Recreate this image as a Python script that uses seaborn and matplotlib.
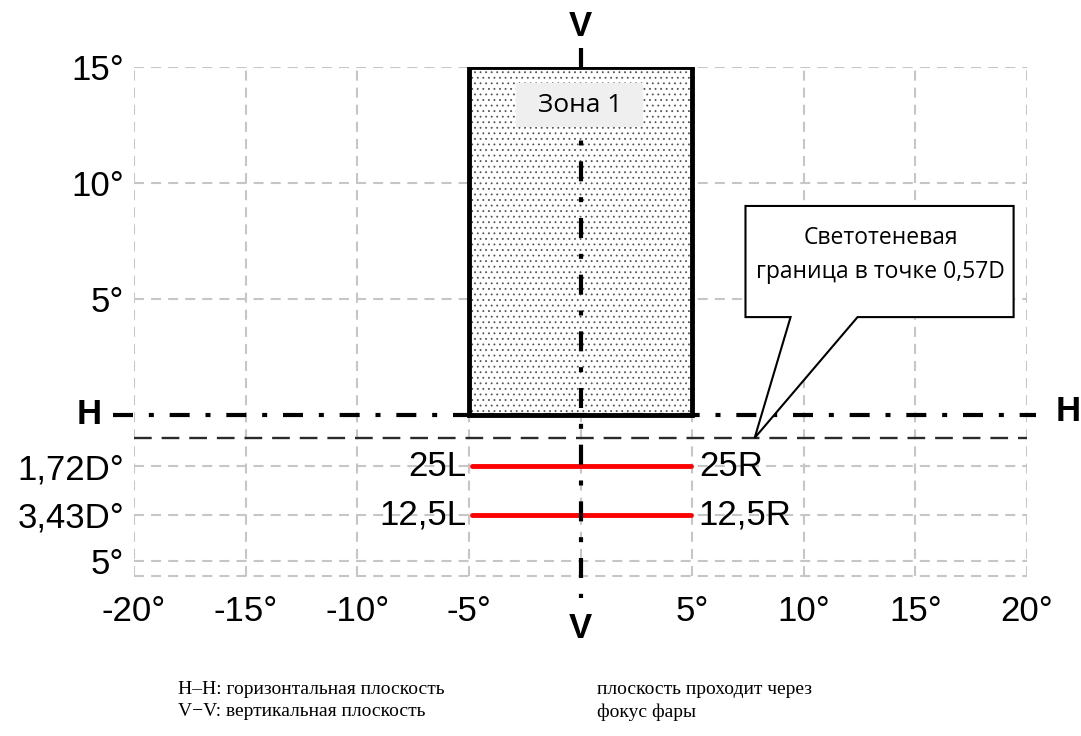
import matplotlib.pyplot as plt
import seaborn as sns
import pandas as pd
from matplotlib.patches import Rectangle, Polygon

# шкалы (углы)
x_ticks = [-20, -15, -10, -5, 0, 5, 10, 15, 20]
x_labels = ["-20°", "-15°", "-10°", "-5°", "", "5°", "10°", "15°", "20°"]
y_ticks = [15, 10, 5, -2.2, -4.31, -6.29]
y_labels = ["15°", "10°", "5°", "1,72D°", "3,43D°", "5°"]
y_bottom = -6.94

# зона 1 и светотеневая граница
zone_x = [-5, 5]
zone_y = [0, 15]
cutoff_y = -0.99

# контрольные линии
test_y = [-2.2, -4.31]
test_x = [-4.85, 4.95]
left_names = ["25L", "12,5L"]
right_names = ["25R", "12,5R"]

sns.set_theme(style="white")
plt.rcParams["font.family"] = ["Liberation Sans", "DejaVu Sans"]
plt.rcParams["hatch.linewidth"] = 0.6
plt.rcParams["text.color"] = "black"

fig = plt.figure(figsize=(10.81, 7.36), dpi=100)
ax = fig.add_axes([134 / 1081, 1 - 576 / 736, 893 / 1081, 509 / 736])
ax.set_xlim(-20, 20)
ax.set_ylim(y_bottom, 15)

for s in ax.spines.values():
    s.set_visible(False)

ax.set_xticks(x_ticks)
ax.set_xticklabels(x_labels)
ax.set_yticks(y_ticks)
ax.set_yticklabels(y_labels)
ax.tick_params(axis="both", length=0, labelsize=25, colors="black", labelcolor="black")
ax.tick_params(axis="x", pad=14)
ax.tick_params(axis="y", pad=7)
grid_ls = (0, (4.8, 3.4))
ax.grid(True, color="#c6c6c6", linestyle=grid_ls, linewidth=1.5, zorder=0)
ax.set_axisbelow(True)
ax.axhline(y_bottom, color="#c6c6c6", linestyle=grid_ls, linewidth=1.5, clip_on=False, zorder=0)

# зона 1
zw = zone_x[1] - zone_x[0]
zh = zone_y[1] - zone_y[0]
ax.add_patch(Rectangle((zone_x[0], zone_y[0]), zw, zh, facecolor="white",
                       edgecolor="#555555", hatch="...", linewidth=0, zorder=3))
ax.add_patch(Rectangle((zone_x[0], zone_y[0]), zw, zh, facecolor="none",
                       edgecolor="black", linewidth=3.5, zorder=4))
ax.add_patch(Rectangle((-2.91, 12.41), 5.69, 1.9, facecolor="#efefef", edgecolor="none", zorder=5))
ax.text(0, 13.36, "Зона 1", ha="center", va="center", fontsize=19,
        family=["Open Sans", "DejaVu Sans"], zorder=6)

# линии H-H и V-V
hv_dash = (0, (4.8, 3.8, 1.2, 3.8))
ax.plot([-20.95, 20.4], [0, 0], color="black", linewidth=3, linestyle=hv_dash, clip_on=False, zorder=4)
ax.plot([0, 0], [15.8, -7.9], color="black", linewidth=3, linestyle=hv_dash, clip_on=False, zorder=4)
ax.text(-22.0, 0, "H", ha="center", va="center", fontsize=25, fontweight="bold", clip_on=False)
ax.text(21.85, 0.15, "H", ha="center", va="center", fontsize=25, fontweight="bold", clip_on=False)
ax.text(0, 16.75, "V", ha="center", va="center", fontsize=25, fontweight="bold", clip_on=False)
ax.text(0, -9.2, "V", ha="center", va="center", fontsize=25, fontweight="bold", clip_on=False)

# светотеневая граница
ax.plot([-20, 20], [cutoff_y, cutoff_y], color="#2a2a2a", linewidth=1.7,
        linestyle=(0, (7.5, 4.2)), zorder=2)

# контрольные линии 25 и 12,5
df = pd.DataFrame({
    "x": test_x * len(test_y),
    "y": [v for v in test_y for _ in test_x],
    "line": [n for n in left_names for _ in test_x],
})
sns.lineplot(data=df, x="x", y="y", units="line", estimator=None, color="red",
             linewidth=3.5, ax=ax, zorder=3, legend=False)
for yv, ln, rn in zip(test_y, left_names, right_names):
    ax.text(test_x[0] - 0.25, yv, ln, ha="right", va="center", fontsize=25)
    ax.text(test_x[1] + 0.35, yv, rn, ha="left", va="center", fontsize=25)
ax.set_xlabel("")
ax.set_ylabel("")

# выноска
callout = [(7.39, 9.01), (19.4, 9.01), (19.4, 4.22), (12.41, 4.22),
           (7.8, cutoff_y), (9.41, 4.22), (7.39, 4.22)]
ax.add_patch(Polygon(callout, closed=True, facecolor="white", edgecolor="black",
                     linewidth=1.5, zorder=5, clip_on=False))
ax.text(13.44, 7.63, "Светотеневая", ha="center", va="center", fontsize=16.5,
        family=["Open Sans", "DejaVu Sans"], zorder=6)
ax.text(13.44, 6.16, "граница в точке 0,57D", ha="center", va="center", fontsize=16.5,
        family=["Open Sans", "DejaVu Sans"], zorder=6)

# пояснения внизу
serif = ["Liberation Serif", "DejaVu Serif"]
fig.text(178 / 1081, 1 - 689 / 736, "H–H: горизонтальная плоскость", fontsize=14,
         family=serif, va="center", ha="left")
fig.text(178 / 1081, 1 - 712 / 736, "V−V: вертикальная плоскость", fontsize=14,
         family=serif, va="center", ha="left")
fig.text(597 / 1081, 1 - 689 / 736, "плоскость проходит через", fontsize=14,
         family=serif, va="center", ha="left")
fig.text(597 / 1081, 1 - 712 / 736, "фокус фары", fontsize=14,
         family=serif, va="center", ha="left")

fig.savefig("out.png", dpi=100)
